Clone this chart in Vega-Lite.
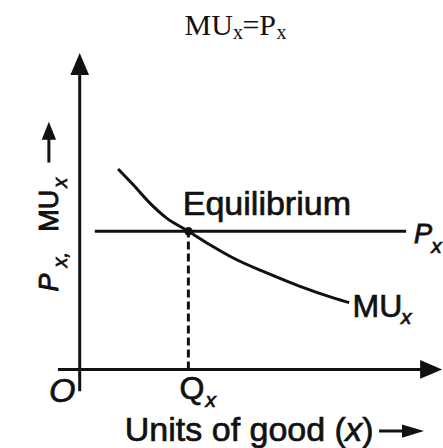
{
  "$schema": "https://vega.github.io/schema/vega-lite/v6.json",
  "width": 443,
  "height": 448,
  "autosize": {"type": "fit", "contains": "padding"},
  "padding": 0,
  "background": "white",
  "config": {"view": {"stroke": null}},
  "datasets": {
    "curve": [
      {"x": 1.058, "y": 5.427},
      {"x": 1.471, "y": 5.003},
      {"x": 1.93, "y": 4.508},
      {"x": 2.391, "y": 4.103},
      {"x": 3.0, "y": 3.741},
      {"x": 3.583, "y": 3.382},
      {"x": 4.225, "y": 3.023},
      {"x": 5.145, "y": 2.617},
      {"x": 6.062, "y": 2.255},
      {"x": 6.979, "y": 1.942},
      {"x": 7.438, "y": 1.807}
    ],
    "segs": [
      {"id": "yaxis", "x": 0, "y": -0.59, "x2": 0, "y2": 8.27},
      {"id": "xaxis", "x": -0.6, "y": 0, "x2": 9.7, "y2": 0},
      {"id": "price", "x": 0.416, "y": 3.741, "x2": 9.009, "y2": 3.741},
      {"id": "ylab", "x": -0.851, "y": 5.6, "x2": -0.851, "y2": 6.46},
      {"id": "xlab", "x": 8.265, "y": -1.67, "x2": 9.2, "y2": -1.67}
    ],
    "dashed": [
      {"x": 3.0, "y": 0, "x2": 3.0, "y2": 3.741}
    ],
    "heads": [
      {"id": "yaxis", "x": 0, "y": 8.27},
      {"id": "xaxis", "x": 9.7, "y": 0},
      {"id": "ylab", "x": -0.851, "y": 6.46},
      {"id": "xlab", "x": 9.2, "y": -1.67}
    ],
    "eq": [
      {"x": 3.0, "y": 3.741}
    ],
    "labels": [
      {"t": "MU", "x": 2.894, "y": 9.05, "g": "serif"},
      {"t": "=P", "x": 4.49, "y": 9.05, "g": "serif"},
      {"t": "x", "x": 4.23, "y": 8.95, "g": "serifsub"},
      {"t": "x", "x": 5.43, "y": 8.95, "g": "serifsub"},
      {"t": "Equilibrium", "x": 2.845, "y": 4.19, "g": "big"},
      {"t": "Units of good (", "x": 1.245, "y": -1.93, "g": "big"},
      {"t": ")", "x": 7.797, "y": -1.93, "g": "big"},
      {"t": "x", "x": 7.329, "y": -1.93, "g": "bigital"},
      {"t": "P", "x": 9.23, "y": 3.43, "g": "ital"},
      {"t": "MU", "x": 7.53, "y": 1.43, "g": "mid"},
      {"t": "Q", "x": 2.757, "y": -0.81, "g": "mid"},
      {"t": "x", "x": 9.7, "y": 3.16, "g": "sub"},
      {"t": "x", "x": 8.87, "y": 1.24, "g": "sub"},
      {"t": "x", "x": 3.47, "y": -1.02, "g": "sub"},
      {"t": "O", "x": -0.48, "y": -0.87, "g": "origin"},
      {"t": "P", "x": -0.603, "y": 2.11, "g": "vital"},
      {"t": "MU", "x": -0.603, "y": 3.73, "g": "vert"},
      {"t": "x,", "x": -0.355, "y": 2.76, "g": "vsub"},
      {"t": "x", "x": -0.355, "y": 4.92, "g": "vsub"}
    ]
  },
  "encoding": {
    "x": {"field": "x", "type": "quantitative", "scale": {"domain": [-2.2, 10], "nice": false, "zero": false}, "axis": null},
    "y": {"field": "y", "type": "quantitative", "scale": {"domain": [-2.1, 10], "nice": false, "zero": false}, "axis": null}
  },
  "layer": [
    {
      "data": {"name": "segs"},
      "mark": {"type": "rule", "color": "#111", "strokeWidth": 3},
      "encoding": {"x2": {"field": "x2"}, "y2": {"field": "y2"}}
    },
    {
      "data": {"name": "dashed"},
      "mark": {"type": "rule", "color": "#111", "strokeWidth": 3, "strokeDash": [8, 4]},
      "encoding": {"x2": {"field": "x2"}, "y2": {"field": "y2"}}
    },
    {
      "data": {"name": "curve"},
      "mark": {"type": "line", "color": "#111", "strokeWidth": 3, "interpolate": "monotone"},
      "encoding": {}
    },
    {
      "data": {"name": "heads"},
      "transform": [{"filter": "datum.id == 'yaxis'"}],
      "mark": {"type": "point", "filled": true, "color": "#111", "opacity": 1, "strokeWidth": 0, "size": 484, "shape": "M0,-1L0.85,1L-0.85,1Z"}
    },
    {
      "data": {"name": "heads"},
      "transform": [{"filter": "datum.id == 'xaxis'"}],
      "mark": {"type": "point", "filled": true, "color": "#111", "opacity": 1, "strokeWidth": 0, "size": 484, "shape": "M1,0L-1,-0.85L-1,0.85Z"}
    },
    {
      "data": {"name": "heads"},
      "transform": [{"filter": "datum.id == 'ylab'"}],
      "mark": {"type": "point", "filled": true, "color": "#111", "opacity": 1, "strokeWidth": 0, "size": 324, "shape": "M0,-1L0.8,1L-0.8,1Z"}
    },
    {
      "data": {"name": "heads"},
      "transform": [{"filter": "datum.id == 'xlab'"}],
      "mark": {"type": "point", "filled": true, "color": "#111", "opacity": 1, "strokeWidth": 0, "size": 484, "shape": "M1,0L-1,-0.6L-1,0.6Z"}
    },
    {
      "data": {"name": "eq"},
      "mark": {"type": "point", "filled": true, "shape": "circle", "color": "#111", "opacity": 1, "size": 70}
    },
    {
      "data": {"name": "labels"},
      "transform": [{"filter": "datum.g == 'serif'"}],
      "mark": {"type": "text", "align": "left", "baseline": "alphabetic", "font": "Liberation Serif", "fontSize": 30, "color": "#111"},
      "encoding": {"text": {"field": "t"}}
    },
    {
      "data": {"name": "labels"},
      "transform": [{"filter": "datum.g == 'serifsub'"}],
      "mark": {"type": "text", "align": "left", "baseline": "alphabetic", "font": "Liberation Serif", "fontSize": 20, "color": "#111"},
      "encoding": {"text": {"field": "t"}}
    },
    {
      "data": {"name": "labels"},
      "transform": [{"filter": "datum.g == 'big'"}],
      "mark": {"type": "text", "align": "left", "baseline": "alphabetic", "font": "Liberation Sans", "fontSize": 34, "color": "#111", "stroke": "#111", "strokeWidth": 0.7},
      "encoding": {"text": {"field": "t"}}
    },
    {
      "data": {"name": "labels"},
      "transform": [{"filter": "datum.g == 'bigital'"}],
      "mark": {"type": "text", "align": "left", "baseline": "alphabetic", "font": "Liberation Sans", "fontSize": 34, "fontStyle": "italic", "color": "#111", "stroke": "#111", "strokeWidth": 0.7},
      "encoding": {"text": {"field": "t"}}
    },
    {
      "data": {"name": "labels"},
      "transform": [{"filter": "datum.g == 'ital'"}],
      "mark": {"type": "text", "align": "left", "baseline": "alphabetic", "font": "Liberation Sans", "fontSize": 27, "fontStyle": "italic", "color": "#111", "stroke": "#111", "strokeWidth": 0.9},
      "encoding": {"text": {"field": "t"}}
    },
    {
      "data": {"name": "labels"},
      "transform": [{"filter": "datum.g == 'mid'"}],
      "mark": {"type": "text", "align": "left", "baseline": "alphabetic", "font": "Liberation Sans", "fontSize": 32, "color": "#111", "stroke": "#111", "strokeWidth": 0.7},
      "encoding": {"text": {"field": "t"}}
    },
    {
      "data": {"name": "labels"},
      "transform": [{"filter": "datum.g == 'sub'"}],
      "mark": {"type": "text", "align": "left", "baseline": "alphabetic", "font": "Liberation Sans", "fontSize": 21, "fontStyle": "italic", "color": "#111", "stroke": "#111", "strokeWidth": 0.7},
      "encoding": {"text": {"field": "t"}}
    },
    {
      "data": {"name": "labels"},
      "transform": [{"filter": "datum.g == 'origin'"}],
      "mark": {"type": "text", "align": "center", "baseline": "alphabetic", "font": "Liberation Sans", "fontSize": 34, "fontStyle": "italic", "color": "#111", "stroke": "#111", "strokeWidth": 0.7},
      "encoding": {"text": {"field": "t"}}
    },
    {
      "data": {"name": "labels"},
      "transform": [{"filter": "datum.g == 'vital'"}],
      "mark": {"type": "text", "align": "left", "baseline": "alphabetic", "angle": 270, "font": "Liberation Sans", "fontSize": 27, "fontStyle": "italic", "color": "#111", "stroke": "#111", "strokeWidth": 0.9},
      "encoding": {"text": {"field": "t"}}
    },
    {
      "data": {"name": "labels"},
      "transform": [{"filter": "datum.g == 'vert'"}],
      "mark": {"type": "text", "align": "left", "baseline": "alphabetic", "angle": 270, "font": "Liberation Sans", "fontSize": 27, "color": "#111", "stroke": "#111", "strokeWidth": 0.9},
      "encoding": {"text": {"field": "t"}}
    },
    {
      "data": {"name": "labels"},
      "transform": [{"filter": "datum.g == 'vsub'"}],
      "mark": {"type": "text", "align": "left", "baseline": "alphabetic", "angle": 270, "font": "Liberation Sans", "fontSize": 20, "fontStyle": "italic", "color": "#111", "stroke": "#111", "strokeWidth": 0.7},
      "encoding": {"text": {"field": "t"}}
    }
  ]
}
